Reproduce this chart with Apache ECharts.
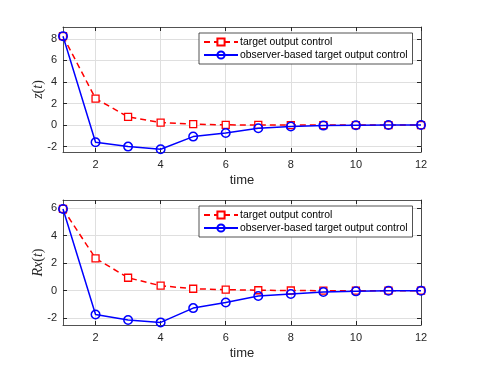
<!DOCTYPE html>
<html>
<head>
<meta charset="utf-8">
<script src="https://cdn.jsdelivr.net/npm/echarts@6/dist/echarts.min.js"></script>
<style>
  html, body { margin: 0; padding: 0; background: #fff; }
  #chart { width: 486px; height: 365px; }
</style>
</head>
<body>
<div id="chart"></div>
<script>
var times = [1, 2, 3, 4, 5, 6, 7, 8, 9, 10, 11, 12];
var xTicks = [2, 4, 6, 8, 10, 12];

// top panel: z(t)
var zTarget = [8.25, 2.46, 0.76, 0.23, 0.08, 0.02, 0.01, 0.0, 0.0, 0.0, 0.0, 0.0];
var zObserver = [8.25, -1.59, -2.0, -2.24, -1.07, -0.73, -0.29, -0.14, -0.05, -0.02, 0.0, 0.0];
var zTicks = [-2, 0, 2, 4, 6, 8];

// bottom panel: Rx(t)
var rxTarget = [5.95, 2.35, 0.94, 0.36, 0.14, 0.07, 0.03, 0.01, 0.0, 0.0, 0.0, 0.0];
var rxObserver = [5.95, -1.73, -2.14, -2.31, -1.27, -0.86, -0.39, -0.24, -0.1, -0.05, -0.01, 0.0];
var rxTicks = [-2, 0, 2, 4, 6];

var names = ["target output control", "observer-based target output control"];

function pairs(ys) {
  return times.map(function (t, i) { return [t, ys[i]]; });
}

var axisColor = "#262626";
var gridColor = "#dfdfdf";
var font = "Liberation Sans, Arial, sans-serif";

function xAxes(gi) {
  return [
    {
      type: "value", gridIndex: gi, min: 1, max: 12, position: "bottom",
      name: "time", nameLocation: "middle", nameGap: 22,
      nameTextStyle: { color: axisColor, fontSize: 13, fontFamily: font },
      axisLine: { onZero: false, lineStyle: { color: axisColor, width: 0.8 } },
      axisTick: { inside: true, length: 4, customValues: xTicks, lineStyle: { color: axisColor } },
      axisLabel: { customValues: xTicks, color: axisColor, fontSize: 11, fontFamily: font, margin: 7 },
      splitLine: { show: true, lineStyle: { color: gridColor, width: 1 } }
    },
    {
      type: "value", gridIndex: gi, min: 1, max: 12, position: "top",
      axisLine: { onZero: false, lineStyle: { color: axisColor, width: 0.8 } },
      axisTick: { inside: true, length: 4, customValues: xTicks, lineStyle: { color: axisColor } },
      axisLabel: { show: false },
      splitLine: { show: false }
    }
  ];
}

function yAxes(gi, ticks, min, max, label) {
  return [
    {
      type: "value", gridIndex: gi, min: min, max: max, position: "left",
      name: label, nameLocation: "middle", nameGap: 18, nameRotate: 90,
      nameMoveOverlap: false,
      nameTextStyle: {
        color: axisColor, fontSize: 14, fontFamily: "Liberation Serif, serif",
        rich: {
          i: { fontStyle: "italic", fontSize: 14, fontFamily: "Liberation Serif, serif", color: axisColor }
        }
      },
      axisLine: { onZero: false, lineStyle: { color: axisColor, width: 0.8 } },
      axisTick: { inside: true, length: 4, customValues: ticks, lineStyle: { color: axisColor } },
      axisLabel: { customValues: ticks, color: axisColor, fontSize: 11, fontFamily: font, margin: 6 },
      splitLine: { show: true, lineStyle: { color: gridColor, width: 1 } }
    },
    {
      type: "value", gridIndex: gi, min: min, max: max, position: "right",
      axisLine: { onZero: false, lineStyle: { color: axisColor, width: 0.8 } },
      axisTick: { inside: true, length: 4, customValues: ticks, lineStyle: { color: axisColor } },
      axisLabel: { show: false },
      splitLine: { show: false }
    }
  ];
}

function series(gi, target, observer) {
  return [
    {
      name: names[0], type: "line", xAxisIndex: gi * 2, yAxisIndex: gi * 2,
      data: pairs(target), symbol: "rect", symbolSize: 7,
      itemStyle: { color: "#fff", borderColor: "#ff0000", borderWidth: 1.3 },
      lineStyle: { color: "#ff0000", width: 1.5, type: [6, 4] },
      z: 3
    },
    {
      name: names[1], type: "line", xAxisIndex: gi * 2, yAxisIndex: gi * 2,
      data: pairs(observer), symbol: "circle", symbolSize: 8.5,
      itemStyle: { color: "rgba(255,255,255,0)", borderColor: "#0000ff", borderWidth: 1.5 },
      lineStyle: { color: "#0000ff", width: 1.5 },
      z: 4
    }
  ];
}

function legend(top) {
  return {
    orient: "vertical", left: 199, top: top, data: names,
    itemWidth: 34, itemHeight: 9, itemGap: 3,
    padding: [4, 5, 4, 4],
    borderColor: axisColor, borderWidth: 0.8, backgroundColor: "#fff",
    textStyle: { color: "#000", fontSize: 10.4, fontFamily: font, padding: [0, 0, 0, -3] }
  };
}

var chart = echarts.init(document.getElementById("chart"), null, { renderer: "canvas" });
chart.setOption({
  backgroundColor: "#fff",
  animation: false,
  grid: [
    { left: 63, top: 27, width: 358, height: 125 },
    { left: 63, top: 200, width: 358, height: 125 }
  ],
  legend: [legend(33), legend(206)],
  xAxis: xAxes(0).concat(xAxes(1)),
  yAxis: yAxes(0, zTicks, -2.5, 9.1, "{i|z}({i|t})").concat(yAxes(1, rxTicks, -2.5, 6.6, "{i|Rx}({i|t})")),
  series: series(0, zTarget, zObserver).concat(series(1, rxTarget, rxObserver))
});
</script>
</body>
</html>
